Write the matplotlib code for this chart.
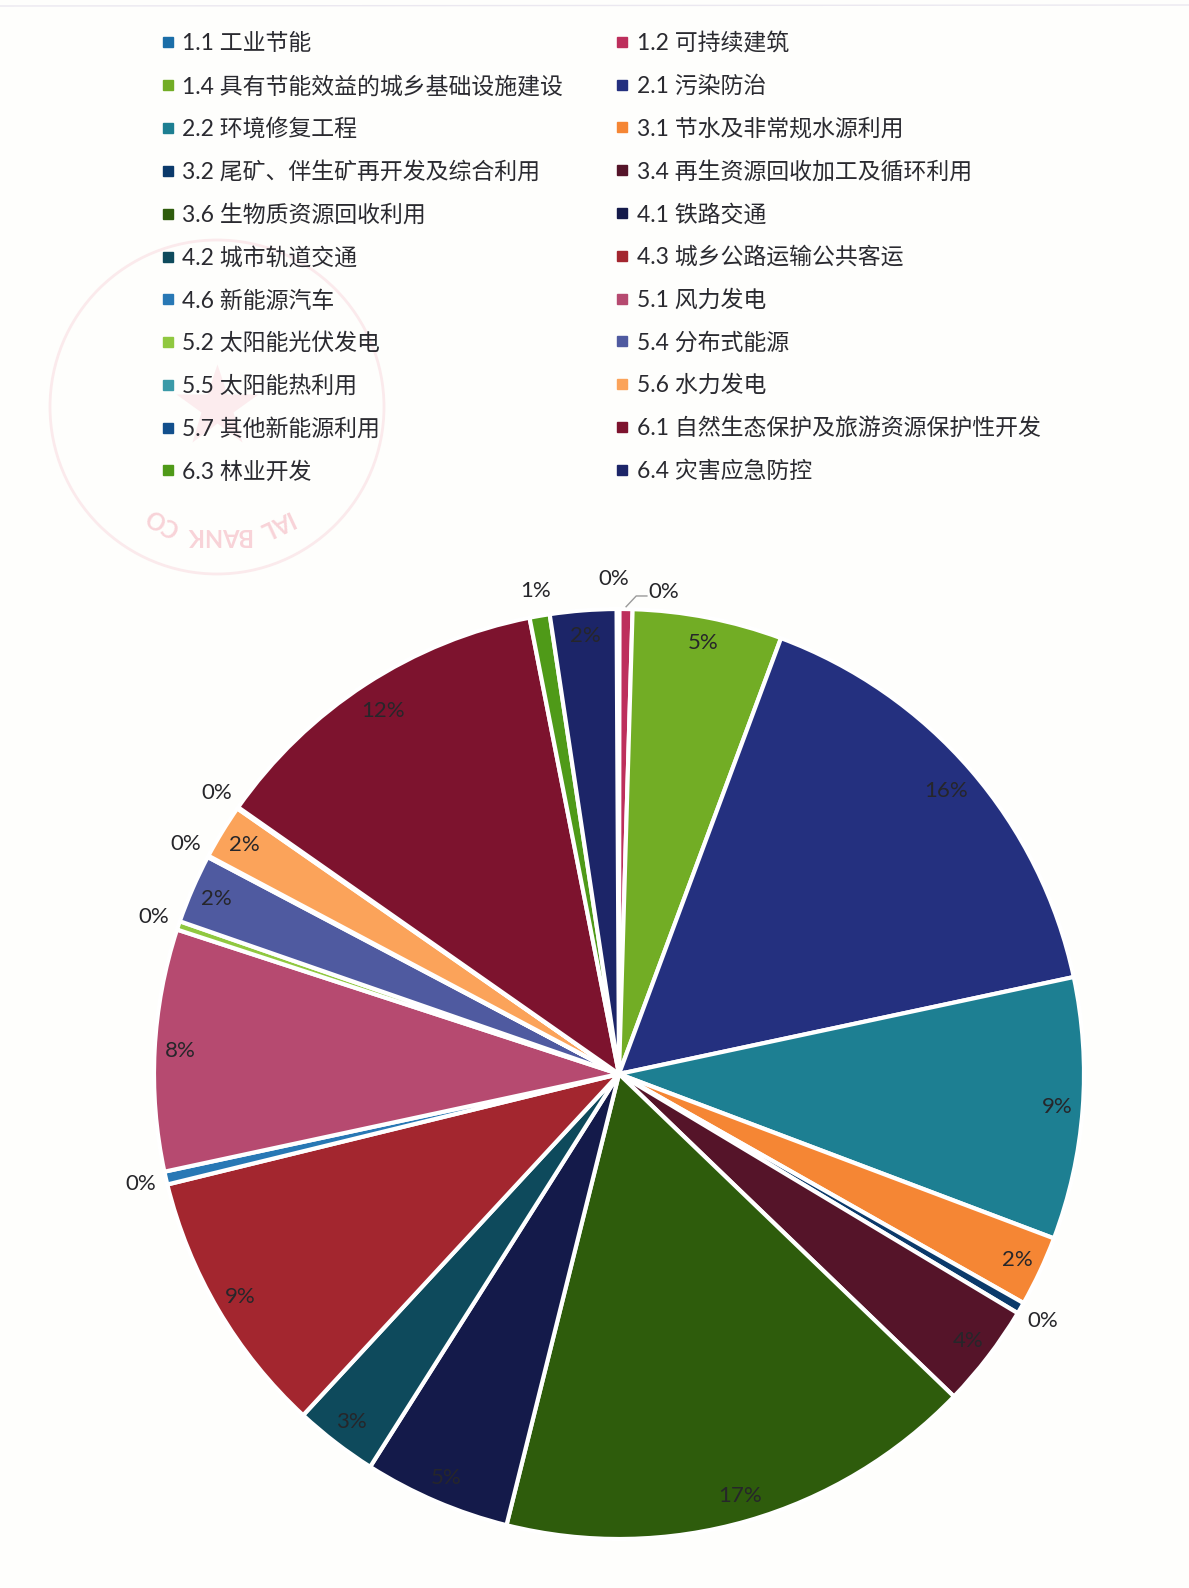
import numpy as np
import matplotlib
matplotlib.use('Agg')
import matplotlib.pyplot as plt
from matplotlib.lines import Line2D
from matplotlib.patches import Circle

plt.rcParams['font.family'] = ['Lato', 'Noto Sans CJK SC', 'DejaVu Sans']

categories = ['1.1 工业节能', '1.2 可持续建筑', '1.4 具有节能效益的城乡基础设施建设', '2.1 污染防治',
              '2.2 环境修复工程', '3.1 节水及非常规水源利用', '3.2 尾矿、伴生矿再开发及综合利用',
              '3.4 再生资源回收加工及循环利用', '3.6 生物质资源回收利用', '4.1 铁路交通',
              '4.2 城市轨道交通', '4.3 城乡公路运输公共客运', '4.6 新能源汽车', '5.1 风力发电',
              '5.2 太阳能光伏发电', '5.4 分布式能源', '5.5 太阳能热利用', '5.6 水力发电',
              '5.7 其他新能源利用', '6.1 自然生态保护及旅游资源保护性开发', '6.3 林业开发', '6.4 灾害应急防控']
shares = [0.1, 0.45, 5.2, 16.0, 9.1, 2.45, 0.4, 3.6, 16.7, 5.1, 2.9,
          9.3, 0.45, 8.4, 0.3, 2.4, 0.05, 1.9, 0.05, 12.2, 0.7, 2.3]
colors = ['#1b6ea8', '#bd2f5c', '#72ad25', '#24307f', '#1d7f92', '#f58634', '#0b3a6b',
          '#551429', '#2e5c0c', '#141a4a', '#0e4a5c', '#a3262f', '#2878b5', '#b64a70',
          '#90c840', '#4f5aa0', '#3a9aa8', '#fba35a', '#124f8c', '#7d132e', '#4f9a18', '#1c2568']

W, H = 1189, 1588
cx, cy, rad = 619, 1074, 465

fig = plt.figure(figsize=(W / 100, H / 100), dpi=100, facecolor='#fefefc')
ax = fig.add_axes([(cx - rad) / W, (H - cy - rad) / H, 2 * rad / W, 2 * rad / H])

# faint stamp showing through the scan
stamp = fig.add_axes([0, 0, 1, 1], zorder=-1)
stamp.set_xlim(0, W)
stamp.set_ylim(H, 0)
stamp.axis('off')
stamp.add_patch(Circle((217, 407), 167, fill=False, ec='#fbeaec', lw=2))
stamp.plot([217], [407], marker='*', ms=62, color='#fcecee', mec='none')
for word, x, y, rot in [('IAL', 275, 524, 205), ('BANK', 218, 535, 180), ('CO', 162, 522, 150)]:
    stamp.text(x, y, word, rotation=rot, ha='center', va='center', fontsize=17,
               fontweight='bold', color='#f8d3d8')
stamp.plot([0, W], [6, 5], color='#ebe8f0', lw=1)

wedges, _, pcts = ax.pie(shares, colors=colors, startangle=90.3, counterclock=False,
                         autopct='%.0f%%', radius=1,
                         wedgeprops=dict(edgecolor='white', linewidth=3, clip_on=False),
                         textprops=dict(fontsize=16, color='#26262a'))
ax.set_xlim(-1, 1)
ax.set_ylim(-1, 1)

# small slices get their label outside the pie
for wedge, txt, share in zip(wedges, pcts, shares):
    mid = np.radians((wedge.theta1 + wedge.theta2) / 2)
    r = 1.055 if share < 1 else 0.945
    txt.set_position((r * np.cos(mid), r * np.sin(mid)))
    txt.set_clip_on(False)

# the two slices at twelve o'clock
pcts[0].set_position((-0.011, 1.064))
pcts[1].set_position((0.097, 1.037))
# big slices sit a little further in
for i in [3, 19]:
    mid = np.radians((wedges[i].theta1 + wedges[i].theta2) / 2)
    pcts[i].set_position((0.93 * np.cos(mid), 0.93 * np.sin(mid)))

mid = np.radians((wedges[1].theta1 + wedges[1].theta2) / 2)
ax.plot([1.005 * np.cos(mid), 0.037, 0.06], [1.005 * np.sin(mid), 1.028, 1.028],
        color='#9a9a9a', lw=1, clip_on=False)

# Word lays the legend out row by row
handles = [Line2D([], [], marker='s', ls='none', ms=7, color=w.get_facecolor()) for w in wedges]
n = len(handles)
order = list(range(0, n, 2)) + list(range(1, n, 2))
fig.legend([handles[i] for i in order], [categories[i] for i in order],
           ncol=2, frameon=False, loc='upper left', bbox_to_anchor=(161 / W, 1 - 32 / H),
           fontsize=16.5, labelcolor='#2a2a30', borderpad=0, borderaxespad=0,
           handlelength=0.6, handletextpad=0.33, columnspacing=2.27, labelspacing=0.92)

fig.savefig('out.png', dpi=100, facecolor=fig.get_facecolor())
